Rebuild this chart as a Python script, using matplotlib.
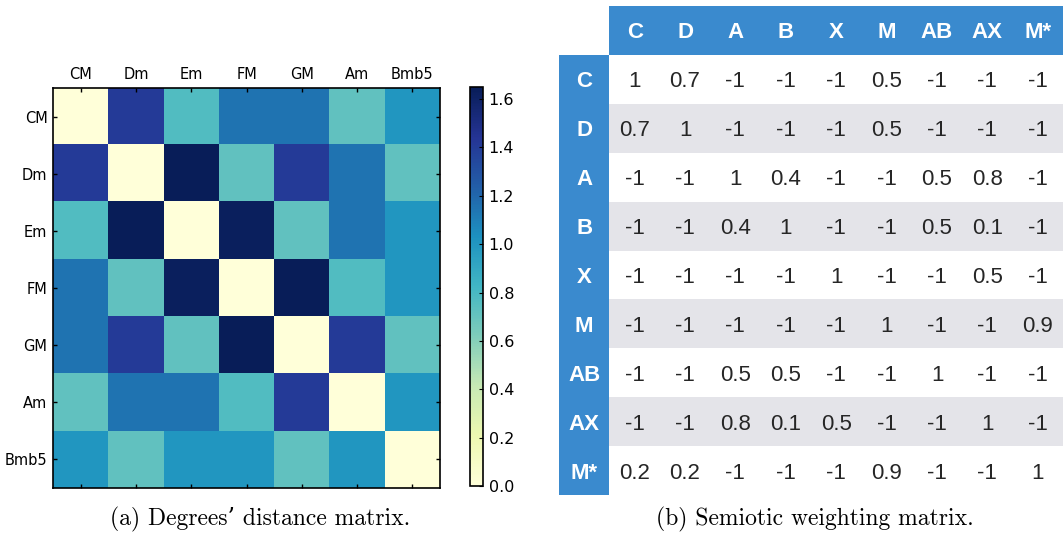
import matplotlib
matplotlib.use("Agg")
import matplotlib.pyplot as plt
from matplotlib.patches import Rectangle
import numpy as np

chords = ['CM', 'Dm', 'Em', 'FM', 'GM', 'Am', 'Bmb5']
dist = np.array([
    [0.00, 1.41, 0.77, 1.15, 1.15, 0.72, 1.00],
    [1.41, 0.00, 1.65, 0.72, 1.41, 1.15, 0.72],
    [0.77, 1.65, 0.00, 1.63, 0.72, 1.15, 1.00],
    [1.15, 0.72, 1.63, 0.00, 1.65, 0.77, 1.00],
    [1.15, 1.41, 0.72, 1.65, 0.00, 1.41, 0.72],
    [0.72, 1.15, 1.15, 0.77, 1.41, 0.00, 1.00],
    [1.00, 0.72, 1.00, 1.00, 0.72, 1.00, 0.00],
])

labels = ['C', 'D', 'A', 'B', 'X', 'M', 'AB', 'AX', 'M*']
weights = [
    ['1', '0.7', '-1', '-1', '-1', '0.5', '-1', '-1', '-1'],
    ['0.7', '1', '-1', '-1', '-1', '0.5', '-1', '-1', '-1'],
    ['-1', '-1', '1', '0.4', '-1', '-1', '0.5', '0.8', '-1'],
    ['-1', '-1', '0.4', '1', '-1', '-1', '0.5', '0.1', '-1'],
    ['-1', '-1', '-1', '-1', '1', '-1', '-1', '0.5', '-1'],
    ['-1', '-1', '-1', '-1', '-1', '1', '-1', '-1', '0.9'],
    ['-1', '-1', '0.5', '0.5', '-1', '-1', '1', '-1', '-1'],
    ['-1', '-1', '0.8', '0.1', '0.5', '-1', '-1', '1', '-1'],
    ['0.2', '0.2', '-1', '-1', '-1', '0.9', '-1', '-1', '1'],
]

fig = plt.figure(figsize=(10.63, 5.38), dpi=100)

# (a) heatmap
ax = fig.add_axes([0.0499, 0.0929, 0.364, 0.7435])
im = ax.imshow(dist, cmap='YlGnBu', vmin=0, vmax=dist.max(),
               interpolation='nearest', aspect='auto')
ax.set_xticks(range(len(chords)))
ax.set_yticks(range(len(chords)))
ax.set_xticklabels(chords, fontsize=10.5)
ax.set_yticklabels(chords, fontsize=10.5)
ax.tick_params(direction='in', length=3, width=1, top=True, bottom=True,
               left=True, right=True, labeltop=True, labelbottom=False, pad=4)
for s in ax.spines.values():
    s.set_linewidth(1.2)

cax = fig.add_axes([0.4421, 0.0967, 0.01223, 0.7416])
cb = fig.colorbar(im, cax=cax, ticks=np.arange(0, 1.61, 0.2))
cb.ax.tick_params(direction='in', length=3, labelsize=11.5, pad=4)
cb.ax.set_yticklabels(['%.1f' % t for t in np.arange(0, 1.61, 0.2)])
cb.outline.set_linewidth(1.2)

capfont = ['cmr10', 'DejaVu Serif']
fig.text(0.245, 0.034, "(a) Degrees’ distance matrix.", family=capfont,
         fontsize=17, ha='center', va='center')

# (b) table
blue = '#3a8ace'
grey = '#e4e4e9'
tx = fig.add_axes([0.5259, 0.0799, 0.4741, 0.9089])
n = len(labels)
tx.set_xlim(0, n + 1)
tx.set_ylim(n + 1, 0)
tx.axis('off')
tx.add_patch(Rectangle((1, 0), n, 1, color=blue, lw=0))
tx.add_patch(Rectangle((0, 1), 1, n, color=blue, lw=0))
for i in range(n):
    if i % 2 == 1:
        tx.add_patch(Rectangle((1, i + 1), n, 1, color=grey, lw=0))
for j, lab in enumerate(labels):
    tx.text(j + 1.5, 0.55, lab, color='white', fontweight='bold', fontsize=16,
            family='Liberation Sans', ha='center', va='center')
    tx.text(0.5, j + 1.55, lab, color='white', fontweight='bold', fontsize=16,
            family='Liberation Sans', ha='center', va='center')
for i in range(n):
    for j in range(n):
        tx.text(j + 1.5, i + 1.55, weights[i][j], color='#262626', fontsize=16,
                family='Liberation Sans', ha='center', va='center')

fig.text(0.767, 0.034, "(b) Semiotic weighting matrix.", family=capfont,
         fontsize=17, ha='center', va='center')

fig.savefig('out.png', dpi=100)
